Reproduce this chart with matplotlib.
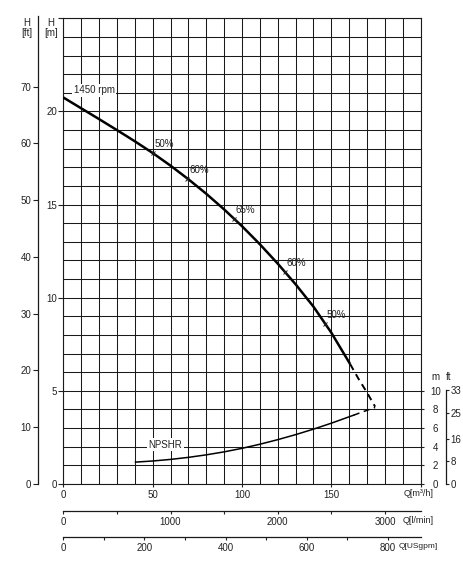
import numpy as np
import matplotlib
matplotlib.use('Agg')
import matplotlib.pyplot as plt

plt.rcParams['font.family'] = ['Liberation Sans', 'DejaVu Sans']
plt.rcParams['font.size'] = 7
INK = '#222222'

# pump curve 1450 rpm, Q [m3/h] -> H [m]
q_h = [0, 10, 20, 30, 40, 50, 60, 70, 80, 90, 100, 110, 120, 130, 140, 150, 160.5]
h = [20.75, 20.17, 19.59, 19.0, 18.4, 17.77, 17.09, 16.36, 15.58, 14.74, 13.84, 12.87, 11.83,
     10.72, 9.52, 8.12, 6.44]
q_h_dash = [160.5, 165, 170, 174.5]
h_dash = [6.44, 5.68, 4.9, 4.15]

# NPSHR curve, Q [m3/h] -> NPSH [m]
q_npsh = [40.4, 50, 60, 70, 80, 90, 100, 110, 120, 130, 140, 150, 160, 162.5]
npsh = [2.35, 2.47, 2.64, 2.86, 3.13, 3.45, 3.83, 4.27, 4.76, 5.3, 5.89, 6.53, 7.22, 7.39]
q_npsh_dash = [162.5, 168, 174.5]
npsh_dash = [7.39, 7.78, 8.22]

# efficiency marks on the H curve
eff_q = [50, 69.5, 95.5, 124, 146.5]
eff_lbl = ['50%', '60%', '65%', '60%', '50%']

ft_ticks = [0, 10, 20, 30, 40, 50, 60, 70]
npsh_m_ticks = [0, 2, 4, 6, 8, 10]
npsh_ft_ticks = [0, 8, 16, 25, 33]
lmin_ticks = [0, 500, 1000, 1500, 2000, 2500, 3000]
lmin_lbl = ['0', '', '1000', '', '2000', '', '3000']
gpm_ticks = [0, 100, 200, 300, 400, 500, 600, 700, 800]
gpm_lbl = ['0', '', '200', '', '400', '', '600', '', '800']

W, H = 463, 567
fig = plt.figure(figsize=(W / 100, H / 100), dpi=100)

x0, x1, yb, yt = 63.3, 420.7, 484, 18.3
ax = fig.add_axes([x0 / W, 1 - yb / H, (x1 - x0) / W, (yb - yt) / H])
ax.set_xlim(0, 200)
ax.set_ylim(0, 25)

# grid
ax.set_xticks(np.arange(0, 201, 10), minor=True)
ax.set_yticks(np.arange(0, 26, 1), minor=True)
ax.set_xticks([0, 50, 100, 150, 200])
ax.set_xticklabels(['0', '50', '100', '150', ''])
ax.set_yticks([0, 5, 10, 15, 20, 25])
ax.set_yticklabels(['0', '5', '10', '15', '20', ''])
ax.grid(which='both', color='#1a1a1a', lw=0.75)
ax.set_axisbelow(True)
ax.tick_params(which='minor', length=0)
ax.tick_params(axis='y', which='major', direction='out', length=3.6, width=0.8,
               pad=1, colors=INK)
ax.tick_params(axis='x', which='major', direction='out', length=2.5, width=0.8,
               pad=2, colors=INK)
for s in ax.spines.values():
    s.set_color('#1a1a1a')
    s.set_linewidth(0.8)

# curves
ax.plot(q_h, h, color='black', lw=1.8, solid_capstyle='butt', solid_joinstyle='round', zorder=3)
ax.plot(q_h_dash, h_dash, color='black', lw=1.4, ls=(0, (3.5, 2.5)), zorder=3)
npsh_h = [v / 2 for v in npsh]
npsh_h_dash = [v / 2 for v in npsh_dash]
ax.plot(q_npsh, npsh_h, color='black', lw=1.1, zorder=3)
ax.plot(q_npsh_dash, npsh_h_dash, color='black', lw=1.1, ls=(0, (4, 3)), zorder=3)

eff_h = np.interp(eff_q, q_h, h)
ax.plot(eff_q, eff_h, ls='none', marker='x', ms=3.2, mew=0.7, color=INK, zorder=4)
for q, hv, t in zip(eff_q, eff_h, eff_lbl):
    ax.annotate(t, (q, hv), xytext=(1.2, 2.8), textcoords='offset points',
                ha='left', va='bottom', color=INK, fontsize=7, zorder=5)

box = dict(facecolor='white', edgecolor='none', pad=1.0)
ax.text(17.2, 21.13, '1450 rpm', ha='center', va='center', color=INK, bbox=box, zorder=2.5)
ax.text(57.2, 2.12, 'NPSHR', ha='center', va='center', color=INK, bbox=box, zorder=2.5)

ax.annotate('Q[m³/h]', (1, 0), xycoords='axes fraction', xytext=(9.2, -7.2),
            textcoords='offset points', ha='right', va='center', color=INK, fontsize=6.5)

# H [ft] axis on the left
m2ft = 1 / 0.3048
sec_ft = ax.secondary_yaxis(-25 / (x1 - x0), functions=(lambda v: v * m2ft, lambda v: v / m2ft))
sec_ft.set_yticks(ft_ticks)
sec_ft.tick_params(direction='out', length=3.6, width=0.8, pad=1.5, colors=INK)
sec_ft.spines['left'].set_bounds(0, 82.4)
sec_ft.spines['left'].set_linewidth(0.9)
sec_ft.spines['left'].set_color('#1a1a1a')

fig.text(26.7 / W, 1 - 28 / H, 'H\n[ft]', ha='center', va='center', color=INK,
         linespacing=1.1)
fig.text(51 / W, 1 - 28 / H, 'H\n[m]', ha='center', va='center', color=INK,
         linespacing=1.1)

# NPSH axes on the right
sec_nm = ax.secondary_yaxis('right', functions=(lambda v: v * 2, lambda v: v / 2))
sec_nm.set_yticks(npsh_m_ticks)
sec_nm.tick_params(direction='out', length=2.2, width=0.8, pad=8.5, colors=INK)
for lb in sec_nm.get_yticklabels():
    lb.set_ha('center')
sec_nm.spines['right'].set_visible(False)

sec_nf = ax.secondary_yaxis(1 + 25 / (x1 - x0),
                            functions=(lambda v: v * 2 * m2ft, lambda v: v / 2 / m2ft))
sec_nf.set_yticks(npsh_ft_ticks)
sec_nf.tick_params(direction='out', length=2.2, width=0.8, pad=1.2, colors=INK)
sec_nf.spines['right'].set_bounds(0, 33)
sec_nf.spines['right'].set_linewidth(0.9)
sec_nf.spines['right'].set_color('#1a1a1a')

fig.text(435 / W, 1 - 377 / H, 'm', ha='center', va='center', color=INK)
fig.text(449 / W, 1 - 377 / H, 'ft', ha='center', va='center', color=INK)

# extra flow scales below
def flow_axis(ypx, xmax, ticks, labels, name, dx, fs):
    a = fig.add_axes([x0 / W, 1 - ypx / H, (x1 - x0) / W, 1e-4])
    a.set_xlim(0, xmax)
    a.set_yticks([])
    a.patch.set_visible(False)
    for k in ['top', 'left', 'right']:
        a.spines[k].set_visible(False)
    a.spines['bottom'].set_linewidth(0.9)
    a.spines['bottom'].set_color('#1a1a1a')
    a.set_xticks(ticks)
    a.set_xticklabels(labels)
    a.tick_params(axis='x', direction='out', length=2.4, width=0.8, pad=1.8, colors=INK)
    a.annotate(name, (1, 0), xycoords='axes fraction', xytext=(dx, -7),
               textcoords='offset points', ha='right', va='center', color=INK, fontsize=fs)
    return a

flow_axis(510.7, 200 * 1000 / 60, lmin_ticks, lmin_lbl, 'Q[l/min]', 9.2, 6.5)
flow_axis(536.7, 200 * 4.402868, gpm_ticks, gpm_lbl, 'Q[USgpm]', 12.2, 6.0)

fig.savefig('out.png', dpi=100, facecolor='white')
